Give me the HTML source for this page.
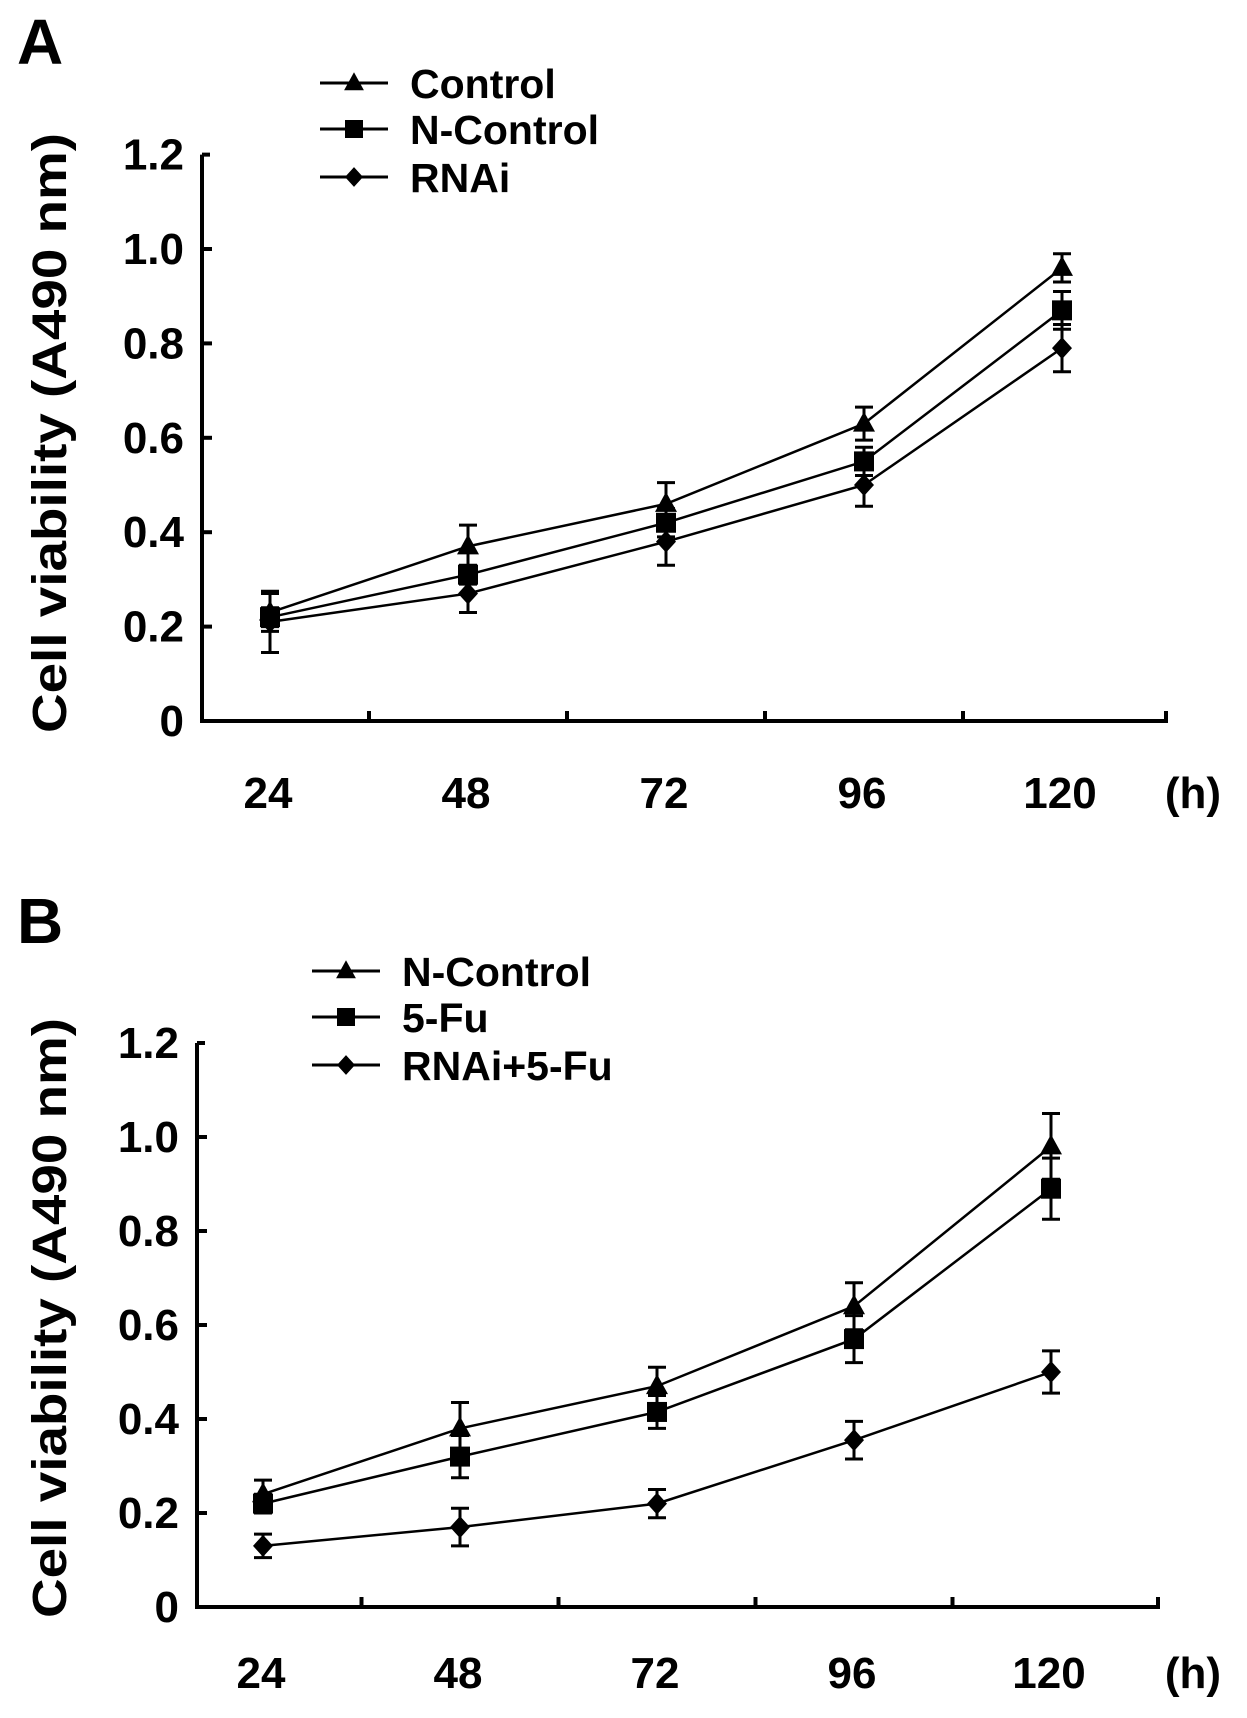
<!DOCTYPE html>
<html><head><meta charset="utf-8">
<style>
html,body{margin:0;padding:0;background:#fff;}
svg{display:block;font-family:"Liberation Sans",Arial,sans-serif;font-weight:bold;}
</style></head>
<body>
<svg id="fig" width="1247" height="1718" viewBox="0 0 1247 1718" xmlns="http://www.w3.org/2000/svg"></svg>
<script>
// ---- data ----
const hours = [24, 48, 72, 96, 120];
const yTicks = [0, 0.2, 0.4, 0.6, 0.8, 1.0];
const yTickLabels = ["0", "0.2", "0.4", "0.6", "0.8", "1.0", "1.2"];
const xTickLabels = ["24", "48", "72", "96", "120"];

const namesA = ["Control", "N-Control", "RNAi"];
const controlA = [0.23, 0.37, 0.46, 0.63, 0.96];
const controlAErr = [0.04, 0.045, 0.045, 0.035, 0.03];
const nControlA = [0.22, 0.31, 0.42, 0.55, 0.87];
const nControlAErr = [0.02, 0.02, 0.03, 0.03, 0.04];
const rnaiA = [0.21, 0.27, 0.38, 0.50, 0.79];
const rnaiAErr = [0.065, 0.04, 0.05, 0.045, 0.05];

const namesB = ["N-Control", "5-Fu", "RNAi+5-Fu"];
const nControlB = [0.24, 0.38, 0.47, 0.64, 0.98];
const nControlBErr = [0.03, 0.055, 0.04, 0.05, 0.07];
const fuB = [0.22, 0.32, 0.415, 0.57, 0.89];
const fuBErr = [0.02, 0.045, 0.035, 0.05, 0.065];
const rnaiFuB = [0.13, 0.17, 0.22, 0.355, 0.50];
const rnaiFuBErr = [0.025, 0.04, 0.03, 0.04, 0.045];

const NS = "http://www.w3.org/2000/svg";
const svg = document.getElementById('fig');
function mk(tag, attrs, parent) {
  const e = document.createElementNS(NS, tag);
  for (const k in attrs) e.setAttribute(k, attrs[k]);
  (parent || svg).appendChild(e);
  return e;
}
function marker(g, shape, x, y, s) {
  let m;
  if (shape === 'tri') m = mk('polygon', {points: `${x},${y-12*s} ${x-11*s},${y+8*s} ${x+11*s},${y+8*s}`, fill: '#000'}, g);
  else if (shape === 'sq') m = mk('rect', {x: x-10*s, y: y-10*s, width: 20*s, height: 20*s, fill: '#000'}, g);
  else m = mk('polygon', {points: `${x},${y-11*s} ${x+10*s},${y} ${x},${y+11*s} ${x-10*s},${y}`, fill: '#000'}, g);
  return m;
}

function panel(cfg) {
  const g = mk('g', {});
  
  
  const xs = i => cfg.x0 + i * cfg.dx;
  const ys = v => cfg.y0 - v * cfg.ky;
  const L = mk('text', {x: cfg.letterX, y: cfg.letterY, 'font-size': 64}, g);
  L.textContent = cfg.letter;
  
  
  const ax = mk('path', {d: `M${cfg.axL},${ys(1.2)} H${cfg.axL+8} M${cfg.axL},${ys(1.2)} V${cfg.y0} H${cfg.axR} V${cfg.y0-10}`, stroke: '#000', 'stroke-width': 4, fill: 'none'}, g);
  
  
  yTicks.forEach(v => { mk('line', {x1: cfg.axL, x2: cfg.axL+10, y1: ys(v), y2: ys(v), stroke: '#000', 'stroke-width': 4}, g); });
  for (let i = 0; i < hours.length - 1; i++) {
    const tx = (xs(i) + xs(i+1)) / 2;
    mk('line', {x1: tx, x2: tx, y1: cfg.y0, y2: cfg.y0-10, stroke: '#000', 'stroke-width': 4}, g);
  }
  yTickLabels.forEach((t, i) => {
    const v = i * 0.2;
    const e = mk('text', {x: cfg.axL-18, y: ys(v)+15, 'font-size': 44, 'text-anchor': 'end'}, g);
    e.textContent = t;
    
    
  });
  xTickLabels.forEach((t, i) => {
    const e = mk('text', {x: xs(i)-2, y: cfg.xlabY, 'font-size': 44, 'text-anchor': 'middle'}, g);
    e.textContent = t;
    
    
  });
  const h = mk('text', {x: 1193, y: cfg.xlabY, 'font-size': 44, 'text-anchor': 'middle'}, g);
  h.textContent = '(h)';
  
  
  const yt = mk('text', {x: 0, y: 0, 'font-size': 48, 'text-anchor': 'middle', textLength: 600, lengthAdjust: 'spacingAndGlyphs', transform: `translate(${cfg.titleX},${cfg.titleY}) rotate(-90)`}, g);
  yt.textContent = 'Cell viability (A490 nm)';
  
  
  const shapes = ['tri', 'sq', 'dia'];
  cfg.series.forEach((vals, si) => {
    const sg = mk('g', {}, g);
    
    
    const pts = vals.map((v, i) => `${xs(i)},${ys(v)}`).join(' ');
    mk('polyline', {points: pts, fill: 'none', stroke: '#000', 'stroke-width': 2.5}, sg);
    vals.forEach((v, i) => {
      const e = cfg.errs[si][i];
      const x = xs(i);
      mk('path', {d: `M${x},${ys(v+e)} V${ys(v-e)} M${x-9},${ys(v+e)} H${x+9} M${x-9},${ys(v-e)} H${x+9}`, stroke: '#000', 'stroke-width': 3, fill: 'none'}, sg);
      const m = marker(sg, shapes[si], x, ys(v), 1);
      
      
    });
    const ly = cfg.legY[si];
    const lg = mk('g', {}, g);
    
    
    mk('line', {x1: cfg.legX, x2: cfg.legX+68, y1: ly, y2: ly, stroke: '#000', 'stroke-width': 3}, lg);
    marker(lg, shapes[si], cfg.legX+34, ly, 0.9);
    const t = mk('text', {x: cfg.legX+90, y: ly+15, 'font-size': 41}, lg);
    t.textContent = cfg.names[si];
  });
}

panel({name: 'panel-a', letter: 'A', letterX: 17, letterY: 64,
  x0: 270, dx: 198, y0: 721, ky: 472, axL: 202, axR: 1166, xlabY: 808,
  titleX: 66, titleY: 433, legX: 320, legY: [83, 129, 177],
  names: namesA, series: [controlA, nControlA, rnaiA], errs: [controlAErr, nControlAErr, rnaiAErr]});
panel({name: 'panel-b', letter: 'B', letterX: 17, letterY: 943,
  x0: 263, dx: 197, y0: 1607, ky: 470, axL: 197, axR: 1158, xlabY: 1688,
  titleX: 66, titleY: 1318, legX: 312, legY: [971, 1017, 1065],
  names: namesB, series: [nControlB, fuB, rnaiFuB], errs: [nControlBErr, fuBErr, rnaiFuBErr]});
</script>
</body></html>
